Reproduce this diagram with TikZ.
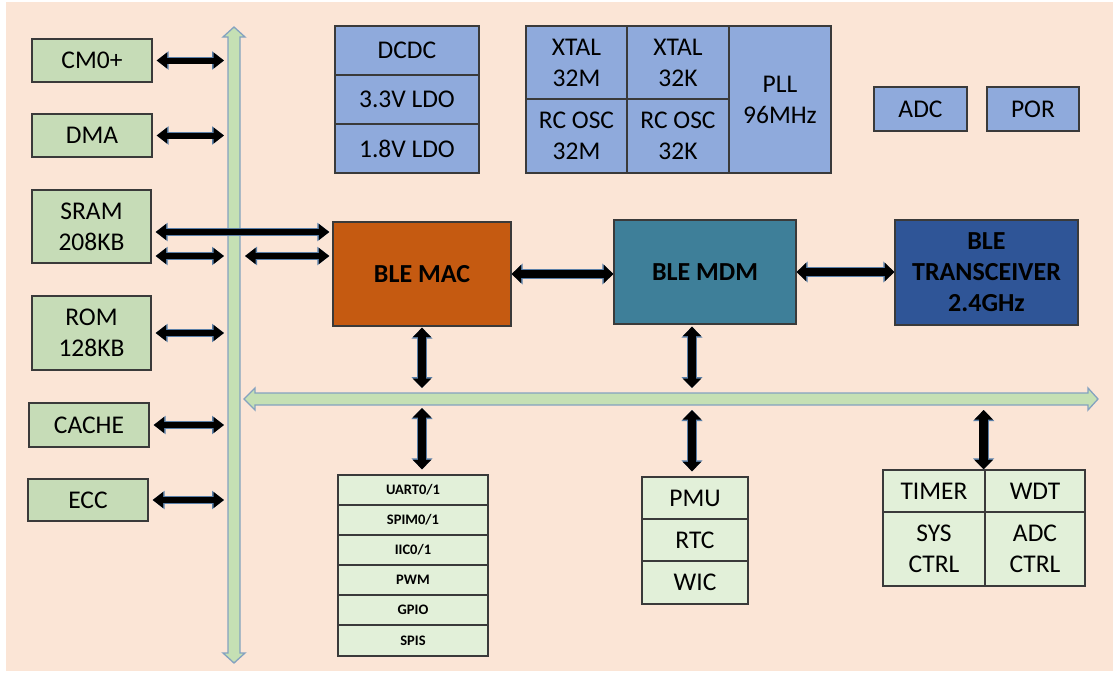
\documentclass[tikz,border=0pt]{standalone}
\usepackage{fontspec}
\setmainfont{Carlito}
\usetikzlibrary{arrows.meta,calc}
\definecolor{peach}{HTML}{FBE5D6}
\definecolor{gleft}{HTML}{C6DCB7}
\definecolor{glight}{HTML}{E2F0D9}
\definecolor{bluebox}{HTML}{8FAADC}
\definecolor{macc}{HTML}{C55A11}
\definecolor{mdmc}{HTML}{3E7F99}
\definecolor{trxc}{HTML}{2F5597}
\definecolor{edge}{HTML}{3A3A3A}
\definecolor{busfill}{HTML}{C5E0B4}
\definecolor{busedge}{HTML}{84A2C0}
\definecolor{arrowedge}{HTML}{5A7FA8}
\newcommand\blk[6]{\node[#6, minimum width={#4-#2}, minimum height={#5-#3}] (#1) at ({(#2+#4)/2},{(#3+#5)/2})}
\tikzset{
  cell/.style={draw=edge, line width=1.3pt, inner sep=0pt, align=center, text=black,
    font=\fontsize{25.5}{31}\selectfont},
  gbox/.style={cell, fill=gleft},
  lbox/.style={cell, fill=glight},
  sbox/.style={cell, fill=glight, font=\bfseries\fontsize{14.5}{16}\selectfont},
  bbox/.style={cell, fill=bluebox},
  core/.style={cell, font=\bfseries\fontsize{26}{31}\selectfont},
  barrow/.style={line width=6pt, black,
    arrows={Triangle[width=15.5pt,length=10.5pt]-Triangle[width=15.5pt,length=10.5pt]},
    preaction={draw=arrowedge, line width=7.6pt,
      arrows={Triangle[width=17.8pt,length=12pt]-Triangle[width=17.8pt,length=12pt]}}},
  bigarrow/.style={line width=8.5pt, black,
    arrows={Triangle[width=18pt,length=9.5pt]-Triangle[width=18pt,length=9.5pt]},
    preaction={draw=arrowedge, line width=10.2pt,
      arrows={Triangle[width=20.5pt,length=11pt]-Triangle[width=20.5pt,length=11pt]}}},
  bus/.style={fill=busfill, draw=busedge, line width=1.3pt, line join=miter}
}
\begin{document}
\begin{tikzpicture}[x=1pt,y=-1pt]
\useasboundingbox (0,0) rectangle (1117,673);
\fill[white] (0,0) rectangle (1117,673);
\fill[peach] (6,2) rectangle (1113,671);

% buses
\draw[bus] (228,37)--(223,37)--(234,27)--(245,37)--(240,37)--(240,653)--(245,653)--(234,663)--(223,653)--(228,653)--cycle;
\draw[bus] (255,393)--(255,388)--(244,399)--(255,410)--(255,405)--(1088,405)--(1088,410)--(1098,399)--(1088,388)--(1088,393)--cycle;
\coordinate (vb) at (234,0);
\coordinate (hb) at (0,399);
\coordinate (mdmx) at (692,0);

% left column
\blk{cm0}{32}{39}{152}{82}{gbox} {CM0+};
\blk{dma}{32}{114}{152}{157}{gbox} {DMA};
\blk{sram}{32}{190}{151}{263}{gbox} {SRAM\\208KB};
\blk{rom}{32}{296}{151}{370}{gbox} {ROM\\128KB};
\blk{cache}{29}{403}{149}{447}{gbox} {CACHE};
\blk{ecc}{28}{479}{148}{521}{gbox} {ECC};

% power
\blk{dcdc}{335}{26}{479}{75}{bbox} {DCDC};
\blk{ldoa}{335}{75}{479}{124}{bbox} {3.3V LDO};
\blk{ldob}{335}{124}{479}{173}{bbox} {1.8V LDO};

% clocks
\blk{xtalm}{526}{26}{627}{99}{bbox} {XTAL\\32M};
\blk{xtalk}{627}{26}{729}{99}{bbox} {XTAL\\32K};
\blk{rcm}{526}{99}{627}{173}{bbox} {RC OSC\\32M};
\blk{rck}{627}{99}{729}{173}{bbox} {RC OSC\\32K};
\blk{pll}{729}{26}{831}{173}{bbox} {PLL\\96MHz};

\blk{adc}{874}{87}{967}{131}{bbox} {ADC};
\blk{por}{987}{87}{1079}{131}{bbox} {POR};

% cores
\blk{mac}{333}{222}{511}{326}{core, fill=macc} {BLE MAC};
\blk{mdm}{614}{220}{796}{324}{core, fill=mdmc} {BLE MDM};
\blk{trx}{895}{220}{1078}{325}{core, fill=trxc} {BLE\\TRANSCEIVER\\2.4GHz};

% peripheral stack
\blk{uart}{338}{475}{488}{505}{sbox} {UART0/1};
\blk{spim}{338}{505}{488}{535}{sbox} {SPIM0/1};
\blk{iic}{338}{535}{488}{565}{sbox} {IIC0/1};
\blk{pwm}{338}{565}{488}{595}{sbox} {PWM};
\blk{gpio}{338}{595}{488}{625}{sbox} {GPIO};
\blk{spis}{338}{625}{488}{656}{sbox} {SPIS};

\blk{pmu}{642}{477}{748}{519}{lbox} {PMU};
\blk{rtc}{642}{519}{748}{561}{lbox} {RTC};
\blk{wic}{642}{561}{748}{604}{lbox} {WIC};

\blk{timer}{883}{470}{985}{512}{lbox} {TIMER};
\blk{wdt}{985}{470}{1085}{512}{lbox} {WDT};
\blk{sysc}{883}{512}{985}{586}{lbox} {SYS\\CTRL};
\blk{adcc}{985}{512}{1085}{586}{lbox} {ADC\\CTRL};

% left arrows to vertical bus
\foreach \n in {cm0,dma,rom,cache,ecc}
  \draw[barrow, shorten <=4pt, shorten >=10pt] (\n.east) -- (\n.east -| vb);
\coordinate (sramA) at ([yshift=-5.5pt]sram.east);
\coordinate (sramB) at ([yshift=-29.5pt]sram.east);
\draw[barrow, shorten <=4pt, shorten >=3pt] (sramA) -- (sramA -| mac.west);
\draw[barrow, shorten <=4pt, shorten >=10pt] (sramB) -- (sramB -| vb);
\draw[barrow, shorten <=11pt, shorten >=3pt] (sramB -| vb) -- (sramB -| mac.west);

% core chain
\draw[bigarrow] (mac.east) -- (mac.east -| mdm.west);
\draw[bigarrow] (mdm.east) -- (mdm.east -| trx.west);

% to horizontal bus
\draw[bigarrow, shorten <=1pt, shorten >=11pt] (mac.south) -- (mac.south |- hb);
\draw[bigarrow, shorten <=9pt, shorten >=5pt] (mac.south |- hb) -- (mac.south |- uart.north);
\draw[bigarrow, shorten <=2pt, shorten >=11pt] (mdmx |- mdm.south) -- (mdmx |- hb);
\draw[bigarrow, shorten <=11pt, shorten >=5pt] (mdmx |- hb) -- (mdmx |- pmu.north);
\draw[bigarrow, shorten <=11pt] ([xshift=-2pt]timer.north east |- hb) -- ([xshift=-2pt]timer.north east);
\end{tikzpicture}
\end{document}
